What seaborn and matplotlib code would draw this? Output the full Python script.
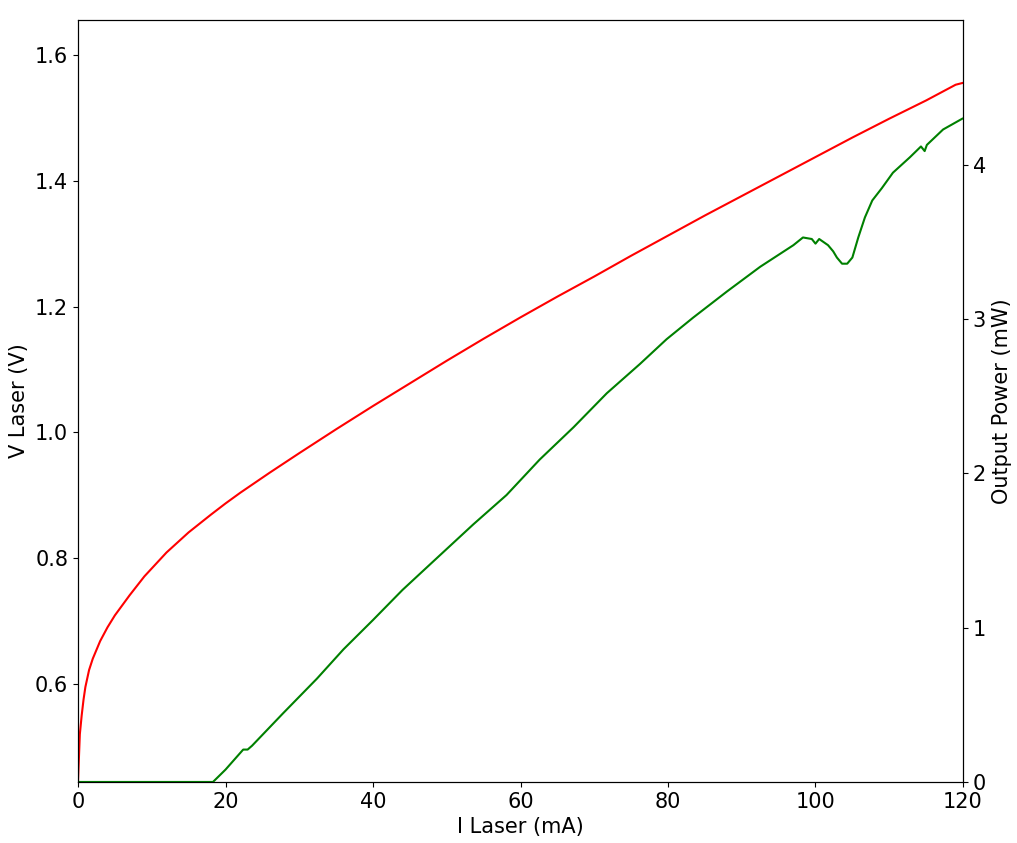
import numpy as np
import pandas as pd
import seaborn as sns
import matplotlib
matplotlib.use("Agg")
import matplotlib.pyplot as plt

# laser I-V curve (red)
i_v = [0, 0.25, 0.5, 0.75, 1, 1.5, 2, 3, 4, 5, 7, 9, 12, 15, 18, 20, 22, 26,
       30, 35, 40, 45, 50, 55, 60, 65, 70, 75, 80, 85, 90, 95, 100, 105, 110,
       115, 119, 120]
v_laser = [0.445, 0.52, 0.55, 0.575, 0.595, 0.622, 0.64, 0.668, 0.69, 0.709,
           0.741, 0.771, 0.809, 0.841, 0.869, 0.887, 0.904, 0.936, 0.967,
           1.005, 1.042, 1.078, 1.114, 1.149, 1.183, 1.216, 1.248, 1.281,
           1.313, 1.345, 1.376, 1.407, 1.438, 1.469, 1.499, 1.528, 1.553,
           1.556]

# laser L-I curve (green)
i_p = [0, 18.3, 20, 22.4, 23.0, 23.6, 27.8, 32.4, 36, 40, 44, 48.4, 53.6,
       58.1, 62.6, 67.2, 71.7, 76.2, 79.8, 83.4, 88, 92.5, 97, 98.3, 99.5,
       100.0, 100.5, 101.7, 102.4, 102.9, 103.6, 104.3, 105, 105.8, 106.7,
       107.7, 109, 110.5, 112.8, 114.3, 114.8, 115.1, 117.3, 119.9]
p_out = [0, 0, 0.08, 0.21, 0.21, 0.235, 0.445, 0.67, 0.86, 1.05, 1.245, 1.44,
         1.67, 1.86, 2.09, 2.30, 2.52, 2.71, 2.87, 3.01, 3.18, 3.34, 3.48,
         3.53, 3.52, 3.49, 3.52, 3.48, 3.44, 3.40, 3.36, 3.36, 3.40, 3.53,
         3.66, 3.77, 3.85, 3.95, 4.05, 4.12, 4.09, 4.13, 4.23, 4.30]

df_v = pd.DataFrame({"I": i_v, "V": v_laser})
df_p = pd.DataFrame({"I": i_p, "P": p_out})

fig, ax = plt.subplots(figsize=(10.17, 8.43), dpi=100)
fig.subplots_adjust(left=0.0767, right=0.9469, top=0.9763, bottom=0.0724)

sns.lineplot(data=df_v, x="I", y="V", color="red", lw=1.5, ax=ax, legend=False)
ax2 = ax.twinx()
sns.lineplot(data=df_p, x="I", y="P", color="green", lw=1.5, ax=ax2, legend=False)

ax.set_xlim(0, 120)
ax.set_ylim(0.444, 1.656)
ax2.set_ylim(0, 4.94)
ax.set_xticks(range(0, 121, 20))
ax.set_yticks([0.6, 0.8, 1.0, 1.2, 1.4, 1.6])
ax2.set_yticks([0, 1, 2, 3, 4])

ax.set_xlabel("I Laser (mA)", fontsize=15)
ax.set_ylabel("V Laser (V)", fontsize=15)
ax2.set_ylabel("Output Power (mW)", fontsize=15)
ax.tick_params(labelsize=15)
ax2.tick_params(labelsize=15)

fig.savefig("out.png", dpi=100)
